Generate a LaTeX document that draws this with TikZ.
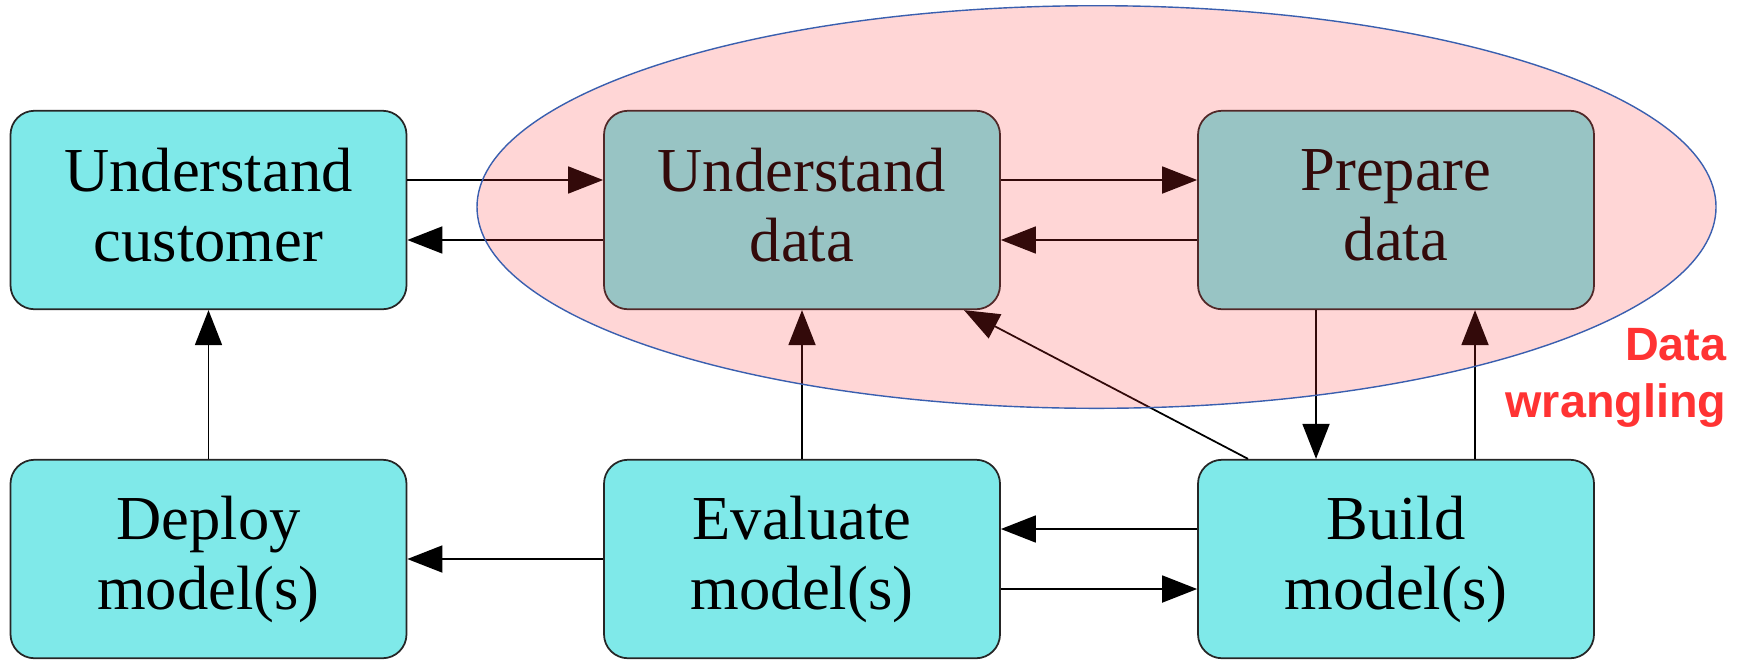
\documentclass[tikz,border=0pt]{standalone}
\usepackage{fontspec}
\setmainfont{Liberation Serif}
\newfontfamily\wranglingfont{Liberation Sans}
\usetikzlibrary{arrows.meta}
\definecolor{kastenfarbe}{HTML}{7FE9E9}
\definecolor{wranglingrot}{HTML}{FF3333}
\definecolor{randblau}{HTML}{3A5FAF}

\begin{document}
\begin{tikzpicture}[
        kasten/.style={draw=black!85, line width=0.5pt, fill=kastenfarbe, rounded corners=0.24cm,
            minimum width=3.96cm, minimum height=1.985cm, align=center,
            font=\fontsize{17.8}{19.9}\selectfont},
        oben/.style={kasten, text depth=0.1cm},
        pfeil/.style={line width=0.5pt, -{Triangle[length=0.35cm, width=0.27cm]}},
        wrangling/.style={text=wranglingrot, align=right, inner sep=0pt,
            font=\wranglingfont\bfseries\fontsize{13.3}{16.2}\selectfont}
    ]

        \useasboundingbox (0,0) rectangle (17.39,6.60);

        \node [oben] (kunde) at (2.085,4.50) {Understand\\customer};
        \node [oben] (daten) at (8.02,4.50) {Understand\\data};
        \node [oben] (aufbereitung) at (13.96,4.50) {Prepare\\data};
        \node [kasten] (einsatz) at (2.085,1.01) {Deploy\\model(s)};
        \node [kasten] (bewertung) at (8.02,1.01) {Evaluate\\model(s)};
        \node [kasten] (modell) at (13.96,1.01) {Build\\model(s)};

        % obere Reihe
        \draw [pfeil] ([yshift=0.3cm]kunde.east) -- ([yshift=0.3cm]daten.west);
        \draw [pfeil] ([yshift=-0.3cm]daten.west) -- ([yshift=-0.3cm]kunde.east);
        \draw [pfeil] ([yshift=0.3cm]daten.east) -- ([yshift=0.3cm]aufbereitung.west);
        \draw [pfeil] ([yshift=-0.3cm]aufbereitung.west) -- ([yshift=-0.3cm]daten.east);

        % senkrecht
        \draw [pfeil] (einsatz.north) -- (kunde.south);
        \draw [pfeil] (bewertung.north) -- (daten.south);
        \draw [pfeil] ([xshift=-0.8cm]aufbereitung.south) -- ([xshift=-0.8cm]modell.north);
        \draw [pfeil] ([xshift=0.79cm]modell.north) -- ([xshift=0.79cm]aufbereitung.south);
        \draw [pfeil] ([xshift=-1.48cm]modell.north) -- ([xshift=1.62cm]daten.south);

        % untere Reihe
        \draw [pfeil] ([yshift=0.3cm]modell.west) -- ([yshift=0.3cm]bewertung.east);
        \draw [pfeil] ([yshift=-0.3cm]bewertung.east) -- ([yshift=-0.3cm]modell.west);
        \draw [pfeil] (bewertung.west) -- (einsatz.east);

        % Ellipse
        \fill [wranglingrot, fill opacity=0.2] (10.965,4.53) ellipse [x radius=6.195cm, y radius=2.013cm];
        \draw [randblau, line width=0.4pt] (10.965,4.53) ellipse [x radius=6.195cm, y radius=2.013cm];

        \node [wrangling, anchor=north east] (wranglingtext) at (17.27,3.32) {Data\\wrangling};

\end{tikzpicture}
\end{document}
